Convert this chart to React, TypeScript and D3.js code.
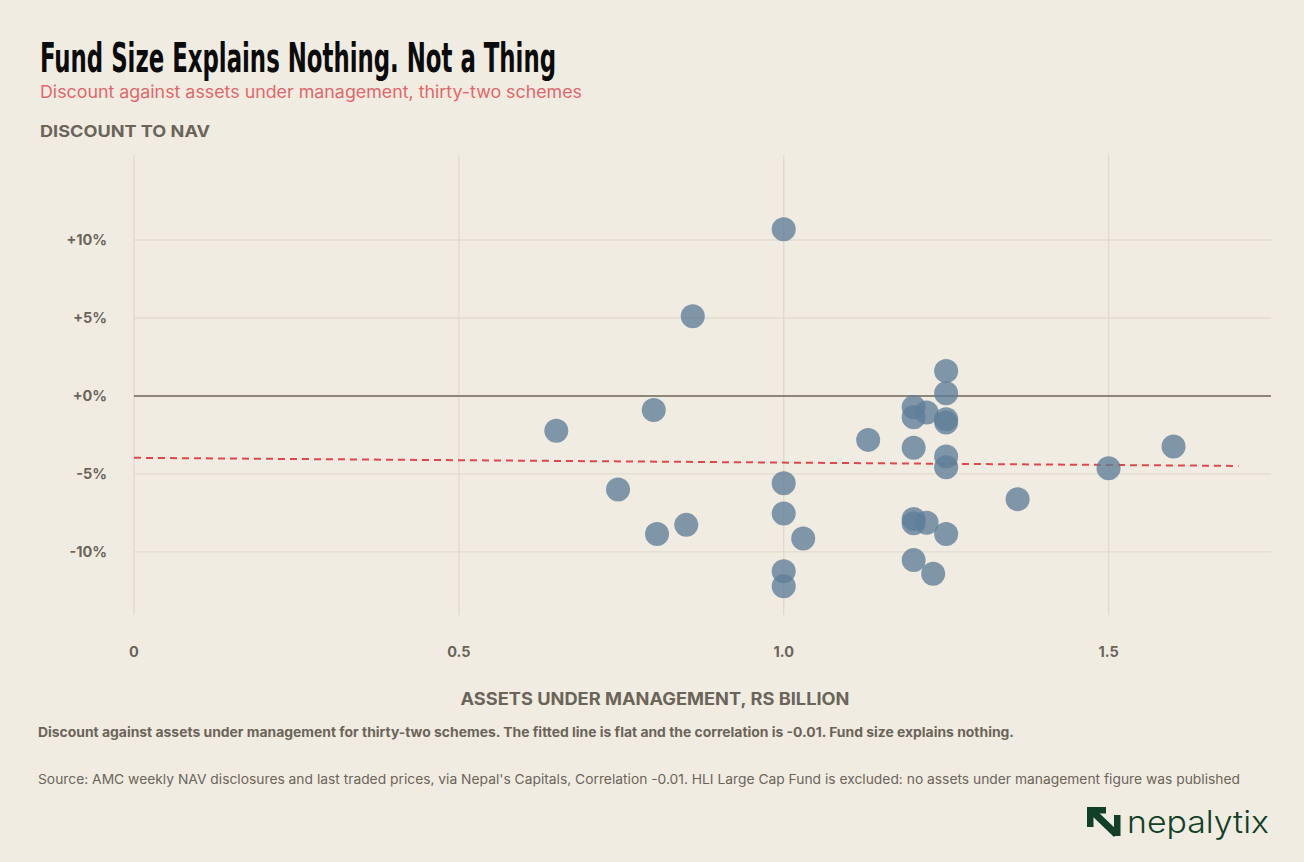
import * as d3 from 'd3';
import React from "react";

// AUM in Rs billion, discount to NAV in %
const aum = [
    0.65, 0.80, 0.745, 0.805, 0.85, 1.0, 1.0, 1.03, 1.0, 1.0,
    1.36, 1.5, 1.6, 1.0, 0.86,
    1.25, 1.25, 1.2, 1.2, 1.22, 1.25, 1.25, 1.13, 1.2, 1.25, 1.25,
    1.2, 1.2, 1.22, 1.25, 1.2, 1.23,
];
const discount = [
    -2.24, -0.9, -6.0, -8.85, -8.27, -5.6, -7.54, -9.15, -11.24, -12.2,
    -6.62, -4.64, -3.25, 10.69, 5.11,
    1.6, 0.17, -0.73, -1.37, -1.07, -1.5, -1.71, -2.82, -3.33, -3.89, -4.57,
    -7.9, -8.16, -8.14, -8.85, -10.53, -11.41,
];
const trendX = [0, 1.7];
const trendY = [-3.97, -4.49];
const xTicks = [0, 0.5, 1.0, 1.5];
const xTickLabels = ["0", "0.5", "1.0", "1.5"];
const yTicks = [10, 5, 0, -5, -10];
const yTickLabels = ["+10%", "+5%", "+0%", "-5%", "-10%"];

const W = 1304, H = 862;
const BG = "#f1ece2";
const INK = "#6b6458";
const GRID = "#e2dccd";
const FONT = "Inter, 'Noto Sans', sans-serif";

export default function App() {
    const x = d3.scaleLinear().domain([0, 1.75]).range([134, 1271]);
    const y = d3.scaleLinear().domain([-14.05, 15.45]).range([615, 155]);
    const pts = aum.map((a, i) => ({ a, d: discount[i] }));
    const trend = d3.line<number>().x(v => x(v)).y((_, i) => y(trendY[i]));

    return (
        <svg width={W} height={H} style={{ position: "absolute", left: 0, top: 0, background: BG }} fontFamily={FONT}>
            <rect width={W} height={H} fill={BG} />
            <text x={40} y={72} fontFamily="'Liberation Sans Narrow', 'DejaVu Sans Condensed', sans-serif" fontWeight={700}
                fontSize={40} fill="#0b0b0b" textLength={516} lengthAdjust="spacingAndGlyphs">
                Fund Size Explains Nothing. Not a Thing
            </text>
            <text x={40} y={98} fontSize={17} fill="#e0676a" textLength={542} lengthAdjust="spacingAndGlyphs">
                Discount against assets under management, thirty-two schemes
            </text>
            <text x={40} y={137} fontSize={16} fontWeight={700} fill={INK} textLength={170} lengthAdjust="spacingAndGlyphs">
                DISCOUNT TO NAV
            </text>

            {yTicks.map((t, i) => (
                <g key={t}>
                    {t !== 0 && <line x1={134} x2={1271} y1={y(t)} y2={y(t)} stroke={GRID} strokeWidth={1.4} />}
                    <text x={107} y={y(t)} dy="0.35em" textAnchor="end" fontSize={14.5} fontWeight={700} fill={INK}>{yTickLabels[i]}</text>
                </g>
            ))}
            {xTicks.map((t, i) => (
                <g key={t}>
                    <line x1={x(t)} x2={x(t)} y1={155} y2={615} stroke={GRID} strokeWidth={1.4} />
                    <text x={x(t)} y={657} textAnchor="middle" fontSize={14.5} fontWeight={700} fill={INK}>{xTickLabels[i]}</text>
                </g>
            ))}
            <line x1={134} x2={1271} y1={y(0)} y2={y(0)} stroke="#8c8679" strokeWidth={2} />

            <path d={trend(trendX) ?? undefined} fill="none" stroke="#e0474c" strokeWidth={2} strokeDasharray="7 5" />

            {pts.map((p, i) => (
                <circle key={i} cx={x(p.a)} cy={y(p.d)} r={12} fill="#5f7e98" fillOpacity={0.78} />
            ))}

            <text x={655} y={705} textAnchor="middle" fontSize={17} fontWeight={700} fill={INK} textLength={389} lengthAdjust="spacingAndGlyphs">
                ASSETS UNDER MANAGEMENT, RS BILLION
            </text>
            <text x={38} y={737} fontSize={13} fontWeight={700} fill={INK} textLength={976} lengthAdjust="spacingAndGlyphs">
                Discount against assets under management for thirty-two schemes. The fitted line is flat and the correlation is -0.01. Fund size explains nothing.
            </text>
            <text x={38} y={784} fontSize={13} fill={INK} textLength={1202} lengthAdjust="spacingAndGlyphs">
                Source: AMC weekly NAV disclosures and last traded prices, via Nepal's Capitals, Correlation -0.01. HLI Large Cap Fund is excluded: no assets under management figure was published
            </text>

            <g fill="#123f27">
                <rect x={1087} y={807} width={6.5} height={20} />
                <rect x={1087} y={807} width={19} height={6.5} />
                <polygon points="1088,812 1093,807 1119,832 1114,837" />
                <rect x={1114} y={815} width={6.5} height={21} />
                <text x={1127} y={833} fontSize={31} fontWeight={300} fontFamily="Inter, 'Noto Sans', sans-serif" textLength={142} lengthAdjust="spacingAndGlyphs">nepalytix</text>
            </g>
        </svg>
    );
}
